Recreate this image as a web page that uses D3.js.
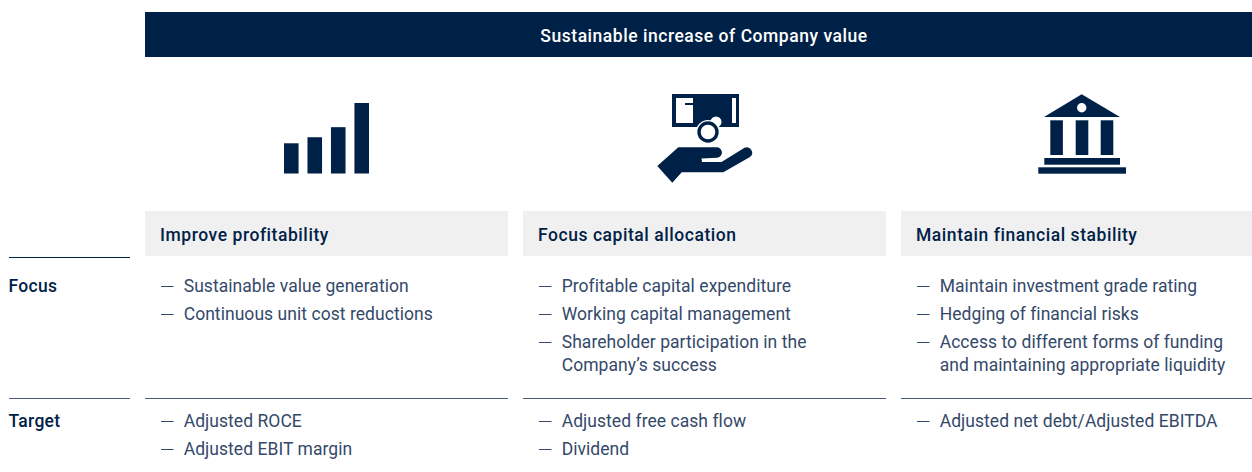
<!DOCTYPE html>
<html>
<head>
<meta charset="utf-8">
<script src="https://cdn.jsdelivr.net/npm/d3@7"></script>
<style>
html, body { margin: 0; padding: 0; background: #fff; }
svg { display: block; }
text { font-family: Roboto, sans-serif; }
</style>
</head>
<body>
<div id="chart"></div>
<script>
// Values
const bannerTitle = "Sustainable increase of Company value";
const columnHeads = ["Improve profitability", "Focus capital allocation", "Maintain financial stability"];
const rowLabels = ["Focus", "Target"];
// one entry per bullet, wrapped lines as sub arrays
const focusItems = [
    [["Sustainable value generation"], ["Continuous unit cost reductions"]],
    [["Profitable capital expenditure"], ["Working capital management"], ["Shareholder participation in the", "Company’s success"]],
    [["Maintain investment grade rating"], ["Hedging of financial risks"], ["Access to different forms of funding", "and maintaining appropriate liquidity"]]
];
const targetItems = [
    [["Adjusted ROCE"], ["Adjusted EBIT margin"]],
    [["Adjusted free cash flow"], ["Dividend"]],
    [["Adjusted net debt/Adjusted EBITDA"]]
];
const iconBarValues = [30, 36, 46, 70];

const navy = "#002147";
const textBlue = "#34496a";
const W = 1252, H = 472;

const svg = d3.select("#chart").append("svg").attr("width", W).attr("height", H);

const xCol = d3.scalePoint().domain(columnHeads).range([145, 901]);
const colWidth = d => Math.min(363, W - xCol(d));

// Banner
svg.append("rect").attr("x", 145).attr("y", 12).attr("width", W - 145).attr("height", 45).attr("fill", navy);
svg.append("text").attr("x", 704).attr("y", 41.5).attr("text-anchor", "middle")
    .attr("fill", "#fff").attr("font-size", 17.5).attr("font-weight", 500).attr("letter-spacing", 0.53).text(bannerTitle);

// Icon 1: rising bars
const barIcon = svg.append("g");
const xIcon = d3.scaleBand().domain(d3.range(iconBarValues.length)).range([284, 369]).paddingInner(0.38);
const yIcon = d3.scaleLinear().domain([0, 70]).range([173.5, 103]);
barIcon.selectAll("rect").data(iconBarValues).join("rect")
    .attr("x", (d, i) => xIcon(i))
    .attr("y", d => yIcon(d))
    .attr("width", xIcon.bandwidth())
    .attr("height", d => yIcon(0) - yIcon(d))
    .attr("fill", navy);

// Icon 2: note, coins and hand
const handIcon = svg.append("g");
handIcon.append("rect").attr("x", 672).attr("y", 94).attr("width", 67).attr("height", 33).attr("fill", navy);
handIcon.append("path").attr("fill", "#fff").attr("d", "M676,98H693V103H685V105H693V123H676Z");
handIcon.append("rect").attr("x", 732).attr("y", 98).attr("width", 4).attr("height", 25).attr("fill", "#fff");
handIcon.append("circle").attr("cx", 716).attr("cy", 122).attr("r", 5.5).attr("fill", "#fff");
handIcon.append("circle").attr("cx", 708).attr("cy", 132).attr("r", 12).attr("fill", "#fff");
handIcon.append("circle").attr("cx", 708).attr("cy", 132).attr("r", 9).attr("fill", "none").attr("stroke", navy).attr("stroke-width", 3.4);
handIcon.append("path").attr("fill", navy)
    .attr("d", "M657.3,166L678.3,147.3H716.5A5.2,5.2 0 0 1 717,157.7L701.5,158.5L702,162H721.5L744.5,147.8A5.4,5.4 0 0 1 750,157L723.3,172.3H681.7L672.3,182.7Z");

// Icon 3: bank building
const bankIcon = svg.append("g").attr("fill", navy);
bankIcon.append("path").attr("d", "M1081.7,94.3L1120,117H1044Z");
bankIcon.append("circle").attr("cx", 1081.7).attr("cy", 107.7).attr("r", 4.7).attr("fill", "#fff");
bankIcon.selectAll("rect.col").data([1050.3, 1075.7, 1100.7]).join("rect").attr("class", "col")
    .attr("x", d => d).attr("y", 120.3).attr("width", 12.6).attr("height", 34.7);
bankIcon.append("rect").attr("x", 1044.3).attr("y", 158).attr("width", 75.7).attr("height", 6.7);
bankIcon.append("rect").attr("x", 1038.3).attr("y", 167.3).attr("width", 87.7).attr("height", 6.4);

// Column heads
const heads = svg.selectAll("g.head").data(columnHeads).join("g").attr("class", "head");
heads.append("rect").attr("x", d => xCol(d)).attr("y", 211).attr("width", colWidth).attr("height", 45).attr("fill", "#f0f0f0");
heads.append("text").attr("x", d => xCol(d) + 15).attr("y", 240.5)
    .attr("fill", navy).attr("font-size", 17.5).attr("font-weight", 500).attr("letter-spacing", 0.55).text(d => d);

// Rules
svg.append("line").attr("x1", 9).attr("x2", 130).attr("y1", 257.5).attr("y2", 257.5).attr("stroke", navy);
svg.append("line").attr("x1", 9).attr("x2", 130).attr("y1", 398.5).attr("y2", 398.5).attr("stroke", "#4a5d78");
svg.selectAll("line.rule").data(columnHeads).join("line").attr("class", "rule")
    .attr("x1", d => xCol(d)).attr("x2", d => xCol(d) + colWidth(d))
    .attr("y1", 398.5).attr("y2", 398.5).attr("stroke", "#4a5d78");

// Row labels
const yRow = d3.scaleOrdinal().domain(rowLabels).range([292, 427]);
svg.selectAll("text.row").data(rowLabels).join("text").attr("class", "row")
    .attr("x", 8.5).attr("y", d => yRow(d))
    .attr("fill", navy).attr("font-size", 17.5).attr("font-weight", 500).attr("letter-spacing", 0.3).text(d => d);

// Bullets
function drawList(lists, startY) {
    lists.forEach((items, c) => {
        const x0 = xCol(columnHeads[c]);
        let y = startY;
        items.forEach(lines => {
            svg.append("line").attr("x1", x0 + 16).attr("x2", x0 + 28.5)
                .attr("y1", y - 5.5).attr("y2", y - 5.5).attr("stroke", textBlue).attr("stroke-width", 1);
            lines.forEach((line, k) => {
                svg.append("text").attr("x", x0 + 38.7).attr("y", y + k * 23)
                    .attr("fill", textBlue).attr("font-size", 17.5).attr("letter-spacing", 0.05).text(line);
            });
            y += 28 + (lines.length - 1) * 23;
        });
    });
}
drawList(focusItems, 292);
drawList(targetItems, 427);
</script>
</body>
</html>
